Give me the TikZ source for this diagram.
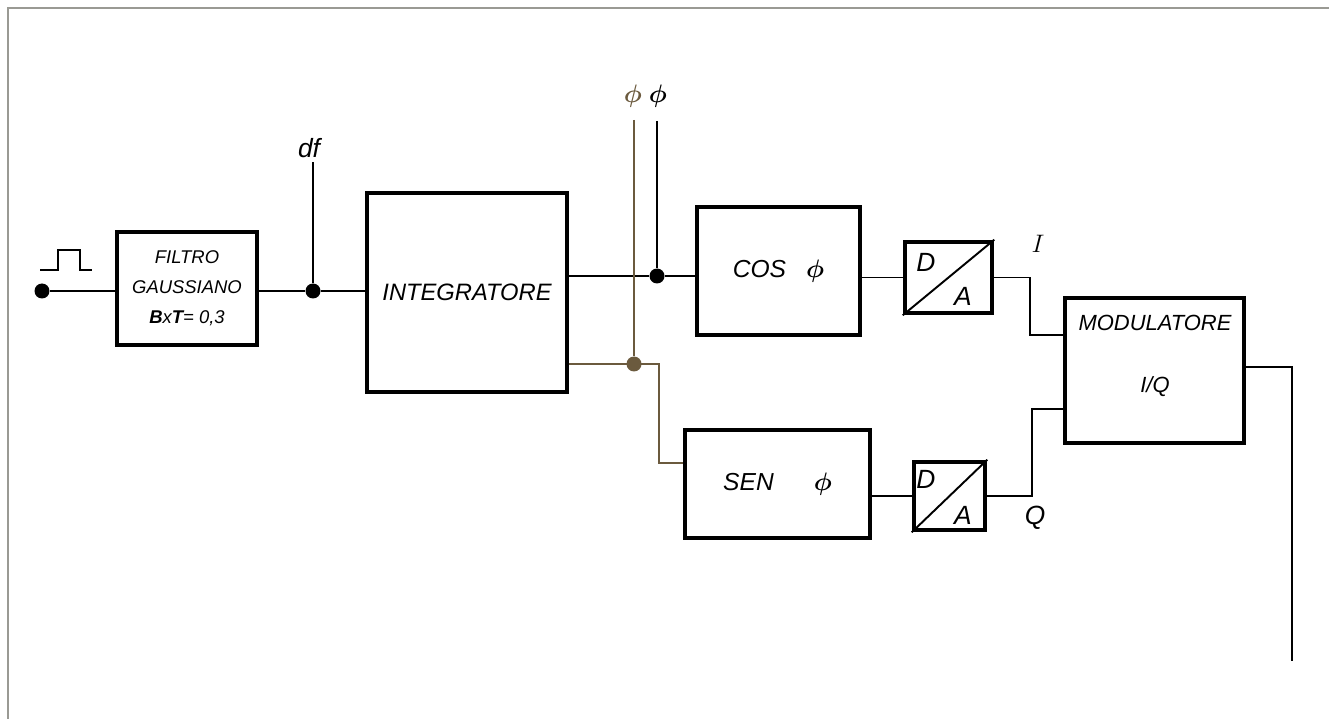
\documentclass[tikz,border=0pt]{standalone}
\usepackage{fontspec}
\usepackage{bm}
\setsansfont{Liberation Sans}
\definecolor{sepia}{HTML}{6B5A3E}
\definecolor{cornice}{HTML}{9A9A94}
\begin{document}
\begin{tikzpicture}[x=0.02cm, y=-0.02cm, line width=1.1pt, font=\sffamily\itshape,
  blk/.style={draw, line width=2.6pt, inner sep=0pt},
  jn/.style={circle, fill, inner sep=0pt, minimum size=0.3cm},
  lbl/.style={inner sep=1pt},
  dalbl/.style={inner sep=0pt, font=\sffamily\itshape\fontsize{15}{15}\selectfont}]
  \useasboundingbox (0,0) rectangle (1329,719);
  % cornice
  \draw[cornice, line width=1.4pt] (8,719) -- (8,8) -- (1329,8);
  % blocchi
  \node[blk, minimum width=2.8cm, minimum height=2.26cm, align=center,
    font=\sffamily\itshape\fontsize{10.5}{17}\selectfont] (filt) at (187,288.5)
    {FILTRO\\GAUSSIANO\\\textbf{B}x\textbf{T}= 0,3};
  \node[blk, minimum width=4cm, minimum height=3.98cm,
    font=\sffamily\itshape\fontsize{13.5}{16}\selectfont] (integ) at (467,292.5) {INTEGRATORE};
  \node[blk, minimum width=3.26cm, minimum height=2.56cm,
    font=\sffamily\itshape\fontsize{14}{16}\selectfont] (cosb) at (778.5,271) {COS\hspace{0.4cm}$\bm{\phi}$};
  \node[blk, minimum width=3.7cm, minimum height=2.16cm,
    font=\sffamily\itshape\fontsize{14}{16}\selectfont] (senb) at (777.5,484) {SEN\hspace{0.8cm}$\bm{\phi}$};
  \node[blk, minimum width=1.74cm, minimum height=1.42cm] (da1) at (948.5,277.5) {};
  \node[blk, minimum width=1.42cm, minimum height=1.36cm] (da2) at (949.5,496) {};
  \node[blk, minimum width=3.58cm, minimum height=2.9cm] (modb) at (1154.5,370.5) {};
  \node[lbl, align=center, font=\sffamily\itshape\fontsize{12.5}{35}\selectfont] (modtxt) at (1155,356)
    {MODULATORE\\I/Q};
  % convertitori D/A
  \draw[line width=1.1pt] (da1.south west) -- (da1.north east);
  \node[dalbl] (d1) at (926,262) {D};
  \node[dalbl] (a1) at (963,296) {A};
  \draw[line width=1.1pt] (da2.south west) -- (da2.north east);
  \node[dalbl] (d2) at (926,479) {D};
  \node[dalbl] (a2) at (963,515) {A};
  % ingresso
  \node[jn] (inp) at (42,291) {};
  \draw (40,270) -- (58,270) -- (58,250) -- (80,250) -- (80,270) -- (92,270);
  \draw (inp) -- (inp -| filt.west);
  \node[jn] (dfj) at (313,291) {};
  \node[lbl, font=\sffamily\itshape\fontsize{15}{16}\selectfont] (df) at (309,148) {df};
  \draw (filt.east |- dfj) -- (dfj) -- (dfj -| integ.west);
  \draw (dfj) -- (dfj |- 0,162);
  % uscite integratore
  \node[lbl, sepia, font=\fontsize{15}{16}\selectfont] (phia) at (633,96) {$\bm{\phi}$};
  \node[lbl, font=\fontsize{15}{16}\selectfont] (phib) at (658,96) {$\bm{\phi}$};
  \node[jn] (ja) at (657,276) {};
  \node[jn, sepia] (jb) at (634,364) {};
  \coordinate (sbend) at (659,463);
  \draw (ja -| integ.east) -- (ja) -- (ja -| cosb.west);
  \draw (ja |- 0,121) -- (ja);
  \draw[sepia] (jb |- 0,120) -- (jb);
  \draw[sepia] (jb -| integ.east) -- (sbend |- jb) -- (sbend) -- (sbend -| senb.west);
  % rami I e Q
  \draw (da1.west -| cosb.east) -- (da1.west);
  \draw (da2.west -| senb.east) -- (da2.west);
  \coordinate (ci) at (1030,335);
  \coordinate (cq) at (1032,409);
  \draw (da1.east) -| (ci) -- (ci -| modb.west);
  \draw (da2.east) -| (cq) -- (cq -| modb.west);
  \node[lbl, font=\fontsize{15}{16}\selectfont] (ilab) at (1038,244) {$I$};
  \node[lbl, font=\sffamily\itshape\fontsize{15}{16}\selectfont] (qlab) at (1035,518) {Q};
  % uscita
  \coordinate (uend) at (1292,661);
  \draw (modb.east |- 0,367) -- (uend |- 0,367) -- (uend);
\end{tikzpicture}
\end{document}
